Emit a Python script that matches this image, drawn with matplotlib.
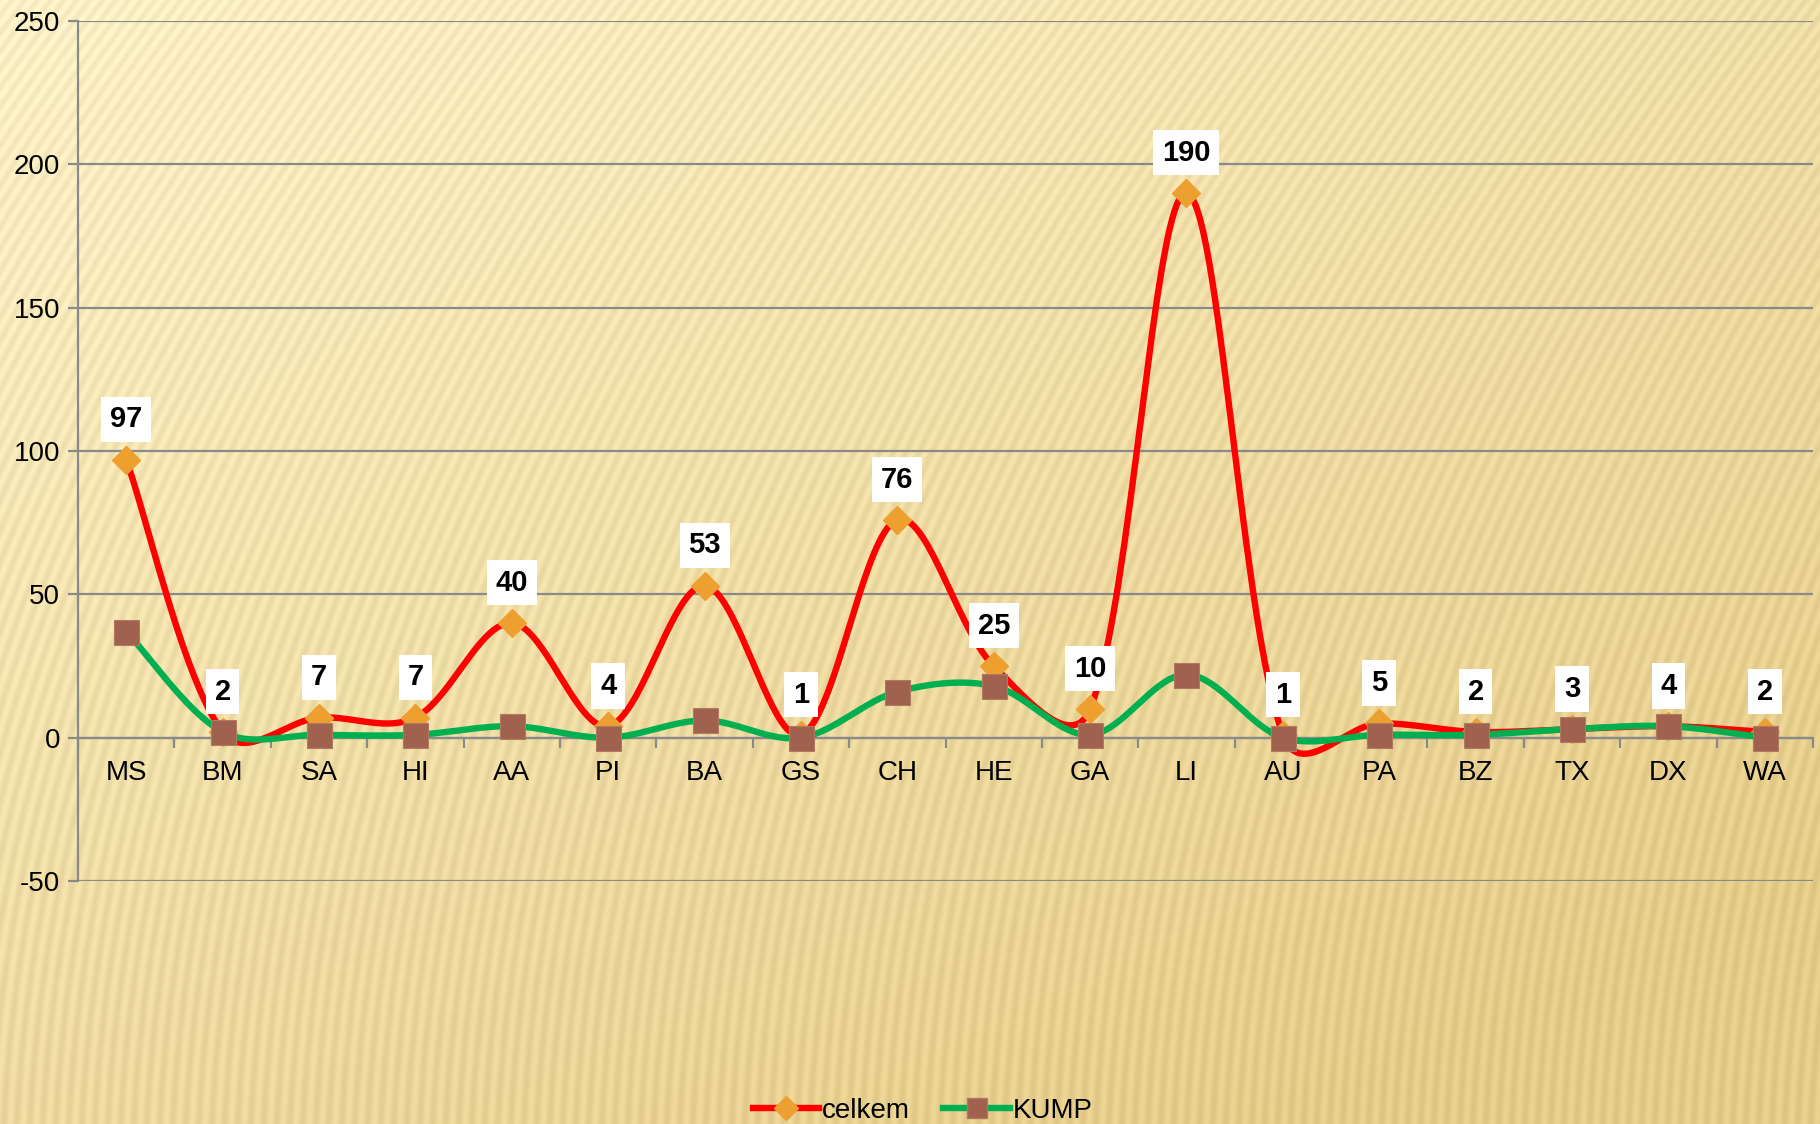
import numpy as np
import matplotlib.pyplot as plt
from matplotlib.lines import Line2D

plt.rcParams['font.family'] = ['Liberation Sans', 'DejaVu Sans']

# chart data
categories = ['MS', 'BM', 'SA', 'HI', 'AA', 'PI', 'BA', 'GS', 'CH',
              'HE', 'GA', 'LI', 'AU', 'PA', 'BZ', 'TX', 'DX', 'WA']
celkem = [97, 2, 7, 7, 40, 4, 53, 1, 76, 25, 10, 190, 1, 5, 2, 3, 4, 2]
kump = [37, 2, 1, 1, 4, 0, 6, 0, 16, 18, 1, 22, 0, 1, 1, 3, 4, 0]
y_ticks = [-50, 0, 50, 100, 150, 200, 250]

W, H = 1820, 1124
AX_L, AX_R, AX_T, AX_B = 78, 1813, 21, 881
PX_X = (AX_R - AX_L) / len(categories)      # pixels per category
PX_Y = (AX_B - AX_T) / 300.0                # pixels per value unit


def smooth_curve(xs, ys, steps=40):
    # Excel-like smoothed line: Bezier segments, tangent damped by the
    # ratio of on-screen segment lengths so long drops overshoot less
    pts = np.column_stack((np.asarray(xs) * PX_X, np.asarray(ys) * PX_Y)).astype(float)
    padded = np.vstack((pts[0], pts, pts[-1]))
    out = []
    t = np.linspace(0, 1, steps)[:, None]
    for i in range(1, len(padded) - 2):
        p0, p1, p2, p3 = padded[i - 1], padded[i], padded[i + 1], padded[i + 2]
        d01 = np.linalg.norm(p1 - p0)
        d12 = np.linalg.norm(p2 - p1)
        d23 = np.linalg.norm(p3 - p2)
        k1 = (2 * d12 / (d01 + d12)) ** 0.5 / 6.0 if d01 + d12 > 0 else 0
        k2 = (2 * d12 / (d12 + d23)) ** 0.5 / 6.0 if d12 + d23 > 0 else 0
        c1 = p1 + (p2 - p0) * k1
        c2 = p2 - (p3 - p1) * k2
        seg = ((1 - t) ** 3) * p1 + 3 * ((1 - t) ** 2) * t * c1 \
            + 3 * (1 - t) * t ** 2 * c2 + t ** 3 * p2
        out.append(seg if i == 1 else seg[1:])
    out = np.vstack(out)
    return out[:, 0] / PX_X, out[:, 1] / PX_Y


fig = plt.figure(figsize=(W / 100, H / 100), dpi=100)

# golden striped background texture
yy, xx = np.mgrid[0:H, 0:W].astype(float)
slant = 0.40 - 0.35 * (yy / H)
phase = (xx - slant * (H - yy)) / 13.0
stripe = np.sin(2 * np.pi * phase) * 0.5 + 0.5
g = np.clip(0.5 * xx / W + 0.65 * yy / H, 0, 1)
light = np.array([253, 242, 200]) / 255.0
dark = np.array([230, 205, 138]) / 255.0
base = light[None, None, :] * (1 - g[..., None]) + dark[None, None, :] * g[..., None]
img = base - 0.06 * stripe[..., None] + 0.025
img = np.clip(img, 0, 1)
bg = fig.add_axes([0, 0, 1, 1], zorder=-10)
bg.imshow(img, aspect='auto', interpolation='bilinear')
bg.axis('off')

ax = fig.add_axes([AX_L / W, 1 - AX_B / H, (AX_R - AX_L) / W, (AX_B - AX_T) / H])
ax.patch.set_alpha(0)

x = np.arange(len(categories))
grid_col = '#8a8a8a'

sx, sy = smooth_curve(x, celkem)
ax.plot(sx, sy, color='#ff0000', lw=4.6, solid_capstyle='round', zorder=3)
ax.plot(x, celkem, ls='none', marker='D', ms=14, color='#eda030',
        markeredgecolor='#eda030', zorder=4)

kx, ky = smooth_curve(x, kump)
ax.plot(kx, ky, color='#00b050', lw=4.6, solid_capstyle='round', zorder=5)
ax.plot(x, kump, ls='none', marker='s', ms=18, color='#a0624e',
        markeredgecolor='#b07a62', markeredgewidth=0.8, zorder=6)

for xi, v in zip(x, celkem):
    ax.annotate(str(v), (xi, v), xytext=(0, 29), textcoords='offset points',
                ha='center', va='center', fontsize=21, fontweight='bold',
                bbox=dict(boxstyle='square,pad=0.3', fc='white', ec='none'),
                zorder=10)

ax.set_xlim(-0.5, len(categories) - 0.5)
ax.set_ylim(-50, 250)
ax.set_yticks(y_ticks)
ax.set_yticklabels([str(t) for t in y_ticks])
ax.yaxis.grid(True, color=grid_col, lw=1.6)
ax.set_axisbelow(True)

for s in ['top', 'right']:
    ax.spines[s].set_visible(False)
ax.spines['left'].set_color(grid_col)
ax.spines['left'].set_linewidth(1.6)
ax.spines['bottom'].set_position(('data', 0))
ax.spines['bottom'].set_color(grid_col)
ax.spines['bottom'].set_linewidth(1.6)

ax.set_xticks(x)
ax.set_xticklabels(categories)
ax.set_xticks(np.arange(-0.5, len(categories), 1), minor=True)
ax.tick_params(axis='x', which='major', length=0, pad=16, labelsize=20)
ax.tick_params(axis='x', which='minor', length=7, width=1.6, color=grid_col,
               direction='out')
ax.tick_params(axis='y', length=7, width=1.6, color=grid_col, pad=6,
               labelsize=20)

handles = [
    Line2D([], [], color='#ff0000', lw=4.6, marker='D', ms=12,
           markerfacecolor='#eda030', markeredgecolor='#eda030'),
    Line2D([], [], color='#00b050', lw=4.6, marker='s', ms=15,
           markerfacecolor='#a0624e', markeredgecolor='#b07a62'),
]
fig.legend(handles, ['celkem', 'KUMP'], loc='lower center', ncol=2,
           bbox_to_anchor=(0.507, -0.022), frameon=False, fontsize=20,
           handlelength=2.4, handletextpad=0.1, columnspacing=1.2)

fig.savefig('out.png', dpi=100)
